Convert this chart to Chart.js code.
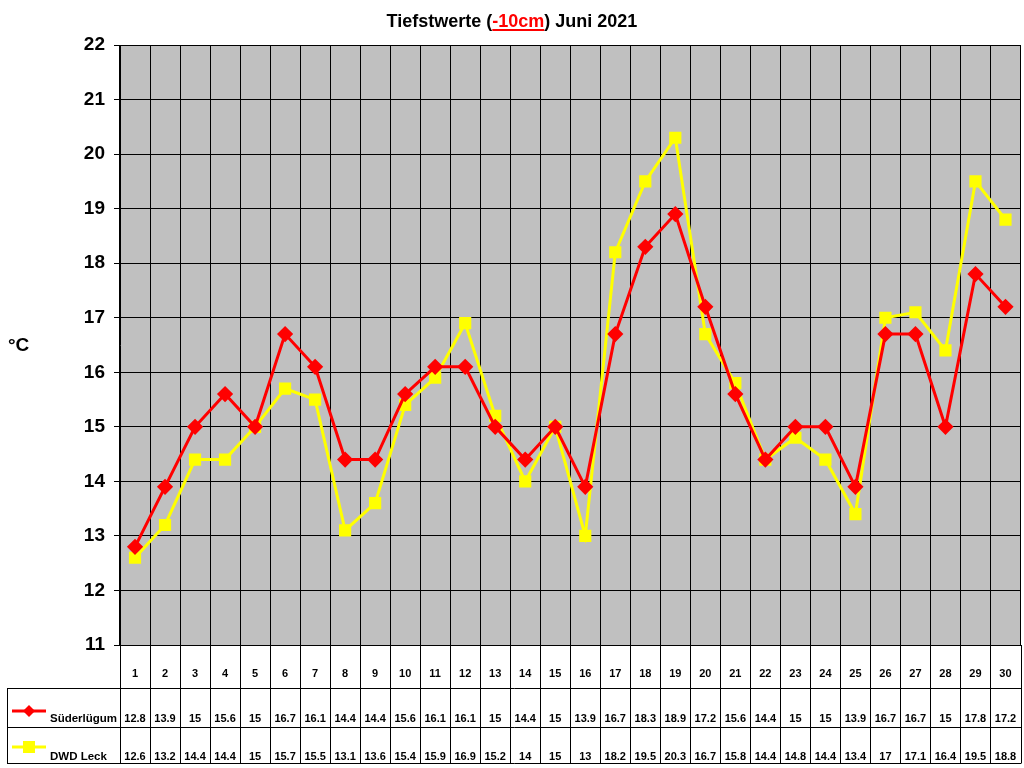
<!DOCTYPE html>
<html>
<head>
<meta charset="utf-8">
<script src="https://cdn.jsdelivr.net/npm/chart.js@4"></script>
<style>
  html,body{margin:0;background:#fff;overflow:hidden;}
  canvas{display:block;}
</style>
</head>
<body>
<canvas id="c" width="1030" height="768"></canvas>
<script>
// days of June 2021
const days=['1','2','3','4','5','6','7','8','9','10','11','12','13','14','15','16','17','18','19','20','21','22','23','24','25','26','27','28','29','30'];
const suederluegum=[12.8,13.9,15,15.6,15,16.7,16.1,14.4,14.4,15.6,16.1,16.1,15,14.4,15,13.9,16.7,18.3,18.9,17.2,15.6,14.4,15,15,13.9,16.7,16.7,15,17.8,17.2];
const dwdLeck=[12.6,13.2,14.4,14.4,15,15.7,15.5,13.1,13.6,15.4,15.9,16.9,15.2,14,15,13,18.2,19.5,20.3,16.7,15.8,14.4,14.8,14.4,13.4,17,17.1,16.4,19.5,18.8];
const seriesNames=['Süderlügum','DWD Leck'];
const seriesColors=['#FF0000','#FFFF00'];

const FONT='"Liberation Sans", Arial, sans-serif';

const background={
  id:'background',
  beforeDraw(chart){
    const {ctx,chartArea:a}=chart;
    ctx.save();
    ctx.fillStyle='#C0C0C0';
    ctx.fillRect(a.left,a.top,a.right-a.left,a.bottom-a.top);
    ctx.restore();
  }
};

const extras={
  id:'extras',
  afterDraw(chart){
    const {ctx,chartArea:a}=chart;
    const xs=chart.scales.x;
    const colW=(a.right-a.left)/days.length;
    ctx.save();

    // title with red underlined part
    ctx.font='bold 18px '+FONT;
    ctx.textBaseline='alphabetic';
    const p1='Tiefstwerte (',p2='-10cm',p3=') Juni 2021';
    const w1=ctx.measureText(p1).width,w2=ctx.measureText(p2).width,w3=ctx.measureText(p3).width;
    let tx=512-(w1+w2+w3)/2;
    const ty=27;
    ctx.fillStyle='#000';ctx.textAlign='left';
    ctx.fillText(p1,tx,ty);
    ctx.fillStyle='#FF0000';
    ctx.fillText(p2,tx+w1,ty);
    ctx.fillRect(tx+w1,ty+2,w2,2);
    ctx.fillStyle='#000';
    ctx.fillText(p3,tx+w1+w2,ty);

    // unit label
    ctx.font='bold 19px '+FONT;
    ctx.fillText('°C',8,351);

    // data table
    const top=a.bottom,r1=688,r2=727,bot=763,left=7;
    ctx.strokeStyle='#000';ctx.lineWidth=1;
    ctx.beginPath();
    for(let i=0;i<=days.length;i++){
      const x=Math.round(a.left+i*colW)+0.5;
      ctx.moveTo(x,top);ctx.lineTo(x,bot);
    }
    ctx.moveTo(left+0.5,r1);ctx.lineTo(left+0.5,bot);
    [r1,r2,bot].forEach(y=>{ctx.moveTo(left,y+0.5);ctx.lineTo(a.right+1,y+0.5);});
    ctx.stroke();

    ctx.textAlign='center';ctx.fillStyle='#000';
    ctx.font='bold 11px '+FONT;
    days.forEach((d,i)=>{
      const x=xs.getPixelForValue(i);
      ctx.fillText(d,x,677);
      ctx.fillText(String(suederluegum[i]),x,722);
      ctx.fillText(String(dwdLeck[i]),x,760);
    });

    // legend keys inside the table
    ctx.textAlign='left';
    ctx.font='bold 11.5px '+FONT;
    ctx.fillText(seriesNames[0],50,722);
    ctx.fillText(seriesNames[1],50,760);
    ctx.lineWidth=3;
    ctx.strokeStyle=seriesColors[0];
    ctx.beginPath();ctx.moveTo(12,711);ctx.lineTo(46,711);ctx.stroke();
    ctx.fillStyle=seriesColors[0];
    ctx.beginPath();ctx.moveTo(29,705);ctx.lineTo(35,711);ctx.lineTo(29,717);ctx.lineTo(23,711);ctx.closePath();ctx.fill();
    ctx.strokeStyle=seriesColors[1];
    ctx.beginPath();ctx.moveTo(12,747);ctx.lineTo(46,747);ctx.stroke();
    ctx.fillStyle=seriesColors[1];
    ctx.fillRect(23,741,12,12);
    ctx.restore();
  }
};

new Chart(document.getElementById('c'),{
  type:'line',
  data:{
    labels:days,
    datasets:[
      {label:seriesNames[0],data:suederluegum,borderColor:seriesColors[0],backgroundColor:seriesColors[0],
       borderWidth:3,tension:0,pointStyle:'rectRot',pointRadius:6,pointHoverRadius:6},
      {label:seriesNames[1],data:dwdLeck,borderColor:seriesColors[1],backgroundColor:seriesColors[1],
       borderWidth:3,tension:0,pointStyle:'rect',pointRadius:6.5,pointHoverRadius:6.5}
    ]
  },
  options:{
    responsive:false,
    devicePixelRatio:1,
    animation:false,
    layout:{padding:{top:45,right:0,bottom:123,left:0}},
    plugins:{legend:{display:false},title:{display:false},tooltip:{enabled:false}},
    scales:{
      x:{
        offset:true,
        ticks:{display:false},
        grid:{color:'#000',lineWidth:1,offset:true,drawTicks:false},
        border:{color:'#000'}
      },
      y:{
        min:11,max:22,
        ticks:{stepSize:1,color:'#000',font:{family:FONT,size:19,weight:'bold'},padding:9},
        grid:{color:'#000',lineWidth:1,tickLength:6},
        border:{color:'#000'},
        afterFit(s){s.width=120;}
      }
    }
  },
  plugins:[background,extras]
});
</script>
</body>
</html>
